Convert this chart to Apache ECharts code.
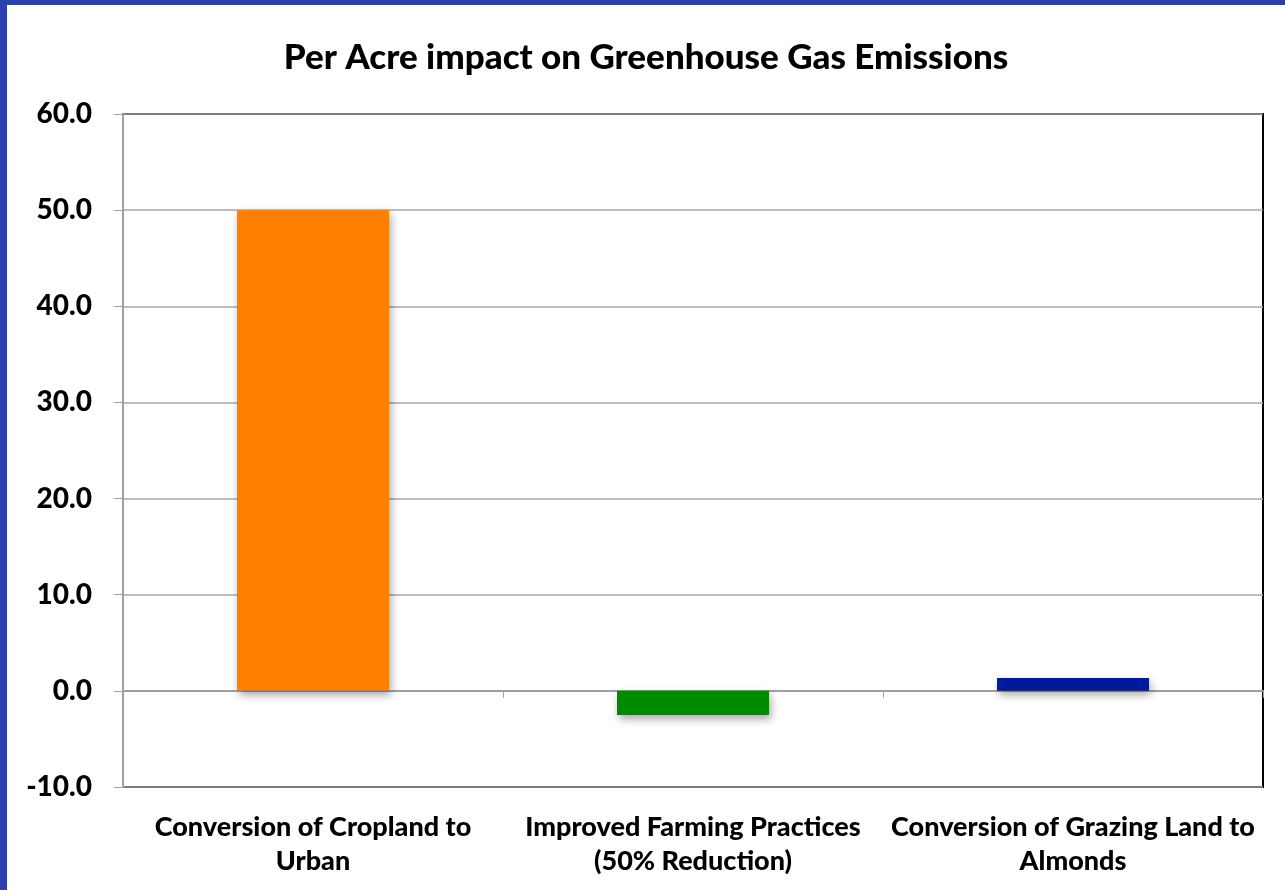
<!DOCTYPE html>
<html>
<head>
<meta charset="utf-8">
<script src="https://cdn.jsdelivr.net/npm/echarts@6/dist/echarts.min.js"></script>
<style>
  html, body { margin: 0; padding: 0; background: #ffffff; }
  #frame {
    width: 1278px; height: 885px;
    border-left: 7px solid #2b40b0;
    border-top: 5px solid #2b40b0;
    background: #ffffff;
  }
  #chart { width: 1278px; height: 885px; }
</style>
</head>
<body>
<div id="frame"><div id="chart"></div></div>
<script>
// Per-acre change in greenhouse gas emissions for three land-use scenarios
const categories = [
  'Conversion of Cropland to\nUrban',
  'Improved Farming Practices\n(50% Reduction)',
  'Conversion of Grazing Land to\nAlmonds'
];
const emissions = [50.0, -2.5, 1.35];
const barColors = ['#ff7f00', '#008a00', '#001a9c'];
const yMin = -10, yMax = 60, yStep = 10;

const fontFamily = 'Lato, "Open Sans", sans-serif';

const chart = echarts.init(document.getElementById('chart'), null, { renderer: 'canvas' });

chart.setOption({
  animation: false,
  backgroundColor: '#ffffff',
  title: {
    text: 'Per Acre impact on Greenhouse Gas Emissions',
    left: 'center',
    top: 30,
    textStyle: { fontFamily, fontWeight: 900, fontSize: 35, color: '#000' }
  },
  grid: {
    left: 116, right: 22, top: 109, bottom: 103,
    show: true, borderColor: '#000', borderWidth: 2, backgroundColor: '#fff',
    containLabel: false
  },
  xAxis: [
    {
      type: 'category',
      data: categories,
      position: 'bottom',
      axisLine: { show: false, onZero: false },
      axisTick: { show: false },
      axisLabel: {
        interval: 0, margin: 23,
        fontFamily, fontWeight: 900, fontSize: 27, lineHeight: 34, color: '#000'
      }
    },
    {
      type: 'category',
      data: categories,
      position: 'bottom',
      axisLine: { show: true, onZero: true, lineStyle: { color: '#a0a0a0', width: 2 } },
      axisTick: { show: true, length: 7, lineStyle: { color: '#a0a0a0', width: 1 } },
      axisLabel: { show: false }
    }
  ],
  yAxis: {
    type: 'value',
    min: yMin, max: yMax, interval: yStep,
    axisLine: { show: true, lineStyle: { color: '#a0a0a0', width: 2 } },
    axisTick: { show: true, length: 9, lineStyle: { color: '#a0a0a0', width: 1 } },
    splitLine: { show: true, lineStyle: { color: '#a8a8a8', width: 1.5 } },
    axisLabel: {
      margin: 31,
      formatter: v => v.toFixed(1),
      fontFamily, fontWeight: 900, fontSize: 28, color: '#000'
    }
  },
  series: [{
    type: 'bar',
    xAxisIndex: 0,
    barWidth: '40%',
    data: emissions.map((v, i) => ({
      value: v,
      itemStyle: {
        color: barColors[i],
        shadowColor: 'rgba(0,0,0,0.35)',
        shadowBlur: 8,
        shadowOffsetX: 2,
        shadowOffsetY: 4
      }
    }))
  }]
});
</script>
</body>
</html>
